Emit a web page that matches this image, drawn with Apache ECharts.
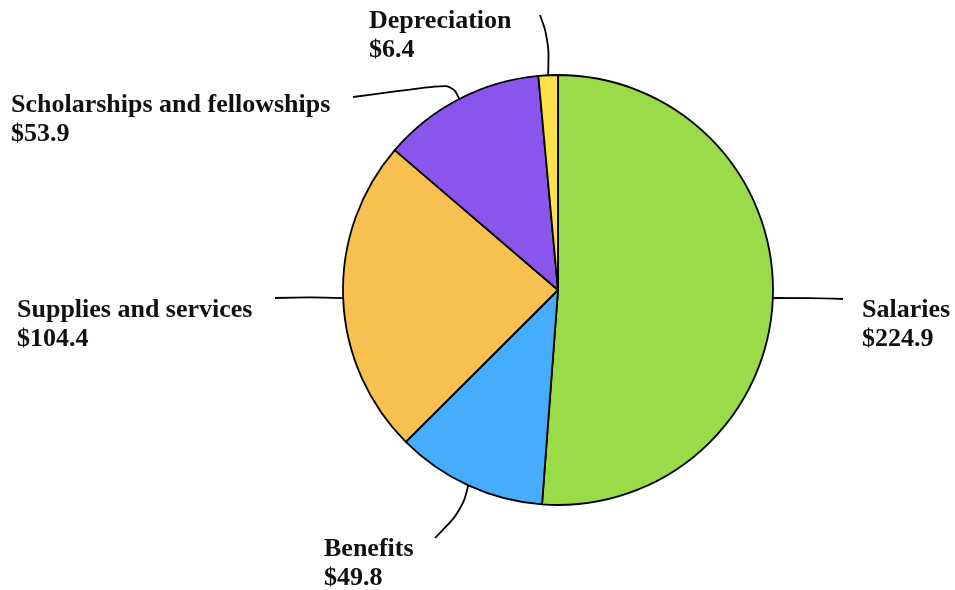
<!DOCTYPE html>
<html><head><meta charset="utf-8">
<script src="https://cdn.jsdelivr.net/npm/echarts@6/dist/echarts.min.js"></script>
<style>html,body{margin:0;padding:0;background:#fff}#c{width:955px;height:590px}</style>
</head><body><div id="c"></div>
<script>
const categories = ['Salaries', 'Benefits', 'Supplies and services', 'Scholarships and fellowships', 'Depreciation'];
const values = [224.9, 49.8, 104.4, 53.9, 6.4];
const colors = ['#9ADB4A', '#45ADFB', '#F8C050', '#8A55EC', '#FDE04A'];

// label text anchor (left, vertical middle) and label-line path (bend, end)
const labelPos = [
  {x: 862, y: 325, bend: [810, 298], end: [843, 299]},
  {x: 324, y: 564, bend: [462, 510], end: [435, 538]},
  {x: 17,  y: 325, bend: [310, 297], end: [275, 298]},
  {x: 11,  y: 120, bend: [452, 84],  end: [353, 97]},
  {x: 369, y: 36,  bend: [549, 40],  end: [540, 15]}
];

const chart = echarts.init(document.getElementById('c'));
chart.setOption({
  animation: false,
  series: [{
    type: 'pie',
    center: [558, 290],
    radius: 215,
    startAngle: 90,
    clockwise: true,
    data: categories.map((n, i) => ({name: n, value: values[i], itemStyle: {color: colors[i]}})),
    itemStyle: {borderColor: '#000', borderWidth: 1.8},
    label: {
      show: true,
      formatter: p => p.name + '\n$' + p.value.toFixed(1),
      fontFamily: 'Liberation Serif',
      fontWeight: 'bold',
      fontSize: 26,
      lineHeight: 29,
      color: '#111'
    },
    labelLine: {show: true, smooth: 0.4, lineStyle: {color: '#000', width: 1.8}},
    labelLayout: function (params) {
      const lp = labelPos[params.dataIndex];
      const start = params.labelLinePoints ? params.labelLinePoints[0] : lp.bend;
      return {
        x: lp.x, y: lp.y, align: 'left', verticalAlign: 'middle',
        labelLinePoints: [start, lp.bend, lp.end]
      };
    },
    emphasis: {disabled: true}
  }]
});
</script></body></html>
